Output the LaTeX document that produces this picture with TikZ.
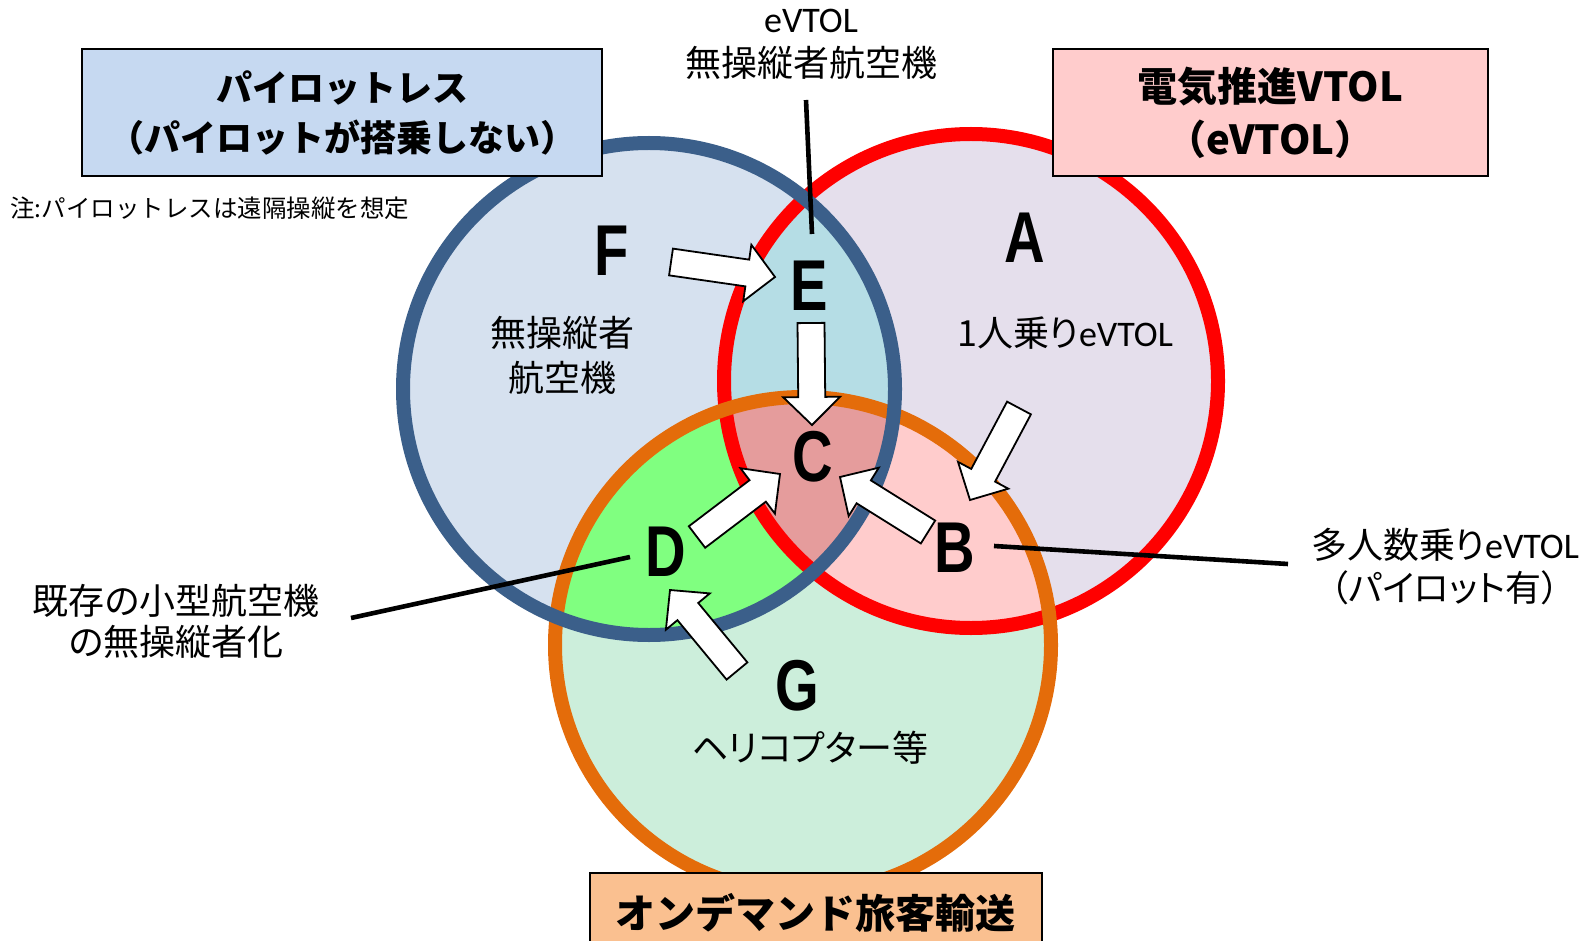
\documentclass[tikz,border=0pt]{standalone}
\usepackage{fontspec}
\setmainfont{Liberation Sans}
\newfontfamily\jp[RawFeature=+palt]{Noto Sans CJK JP}
\newfontfamily\jpt{Noto Sans CJK JP}
\newfontfamily\lat{Carlito}
\newfontfamily\letf[FakeStretch=0.78]{Liberation Sans}
\usetikzlibrary{calc}
\definecolor{bluefill}{HTML}{D6E1EF}
\definecolor{redfill}{HTML}{E5DFEC}
\definecolor{orangefill}{HTML}{CCEEDB}
\definecolor{Efill}{HTML}{B5DDE5}
\definecolor{Cfill}{HTML}{E59C9C}
\definecolor{Dfill}{HTML}{80FF80}
\definecolor{Bfill}{HTML}{FFCCCC}
\definecolor{bluering}{HTML}{3B5F8A}
\definecolor{redring}{HTML}{FF0000}
\definecolor{orangering}{HTML}{E46C0A}
\definecolor{boxblue}{HTML}{C6D9F1}
\definecolor{boxpink}{HTML}{FFCCCC}
\definecolor{boxorange}{HTML}{FAC090}
\tikzset{
  ring/.style={line width=14pt},
  lbl/.style={font=\letf\bfseries\fontsize{72}{72}\selectfont, inner sep=0pt},
  txt/.style={font=\jp\fontsize{36}{45}\selectfont, align=center, inner sep=0pt},
  titlebox/.style={draw=black, line width=2pt},
  ttext/.style={font=\jpt\bfseries\fontsize{36}{50}\selectfont, align=center, inner sep=0pt},
  barrow/.style={draw=black, fill=white, line width=1.8pt, line join=miter},
  lead/.style={line width=4.6pt, draw=black}
}
\newcommand\blockarr[2]{%
  \coordinate (hb) at ($(#2)!28pt!(#1)$);
  \draw[barrow] ($(#1)!13.5pt!90:(#2)$) -- ($(hb)!13.5pt!90:(#2)$) -- ($(hb)!28.5pt!90:(#2)$) -- (#2)
    -- ($(hb)!28.5pt!-90:(#2)$) -- ($(hb)!13.5pt!-90:(#2)$) -- ($(#1)!13.5pt!-90:(#2)$) -- cycle;}
\begin{document}
\begin{tikzpicture}[x=1pt,y=-1pt]
\useasboundingbox (0,0) rectangle (1593,941);
\coordinate (cb) at (649,389);
\coordinate (cr) at (971,381);
\coordinate (co) at (803,645);
% base fills
\fill[bluefill] (cb) circle[radius=246pt];
\fill[redfill] (cr) circle[radius=247pt];
\fill[orangefill] (co) circle[radius=248pt];
% intersections
\begin{scope}\clip (cb) circle[radius=246pt]; \fill[Dfill] (co) circle[radius=248pt];\end{scope}
\begin{scope}\clip (cr) circle[radius=247pt]; \fill[Bfill] (co) circle[radius=248pt];\end{scope}
\begin{scope}\clip (cb) circle[radius=246pt]; \fill[Efill] (cr) circle[radius=247pt];\end{scope}
\begin{scope}\clip (cb) circle[radius=246pt]; \clip (cr) circle[radius=247pt]; \fill[Cfill] (co) circle[radius=248pt];\end{scope}
% rings
\draw[ring, redring] (cr) circle[radius=247pt];
\draw[ring, orangering] (co) circle[radius=248pt];
\draw[ring, bluering] (cb) circle[radius=246pt];
% title boxes
\node[titlebox, fill=boxblue, minimum width=520pt, minimum height=127pt, anchor=north west] (tb1) at (81,48) {};
\node[ttext] (tt1) at (tb1.center) {パイロットレス\\（パイロットが搭乗しない）};
\node[titlebox, fill=boxpink, minimum width=435pt, minimum height=127pt, anchor=north west] (tb2) at (1052,48) {};
\node[ttext, font=\jpt\bfseries\fontsize{40}{53}\selectfont] (tt2) at (tb2.center) {電気推進VTOL\\（eVTOL）};
\node[titlebox, fill=boxorange, minimum width=452pt, minimum height=100pt, anchor=north west] (tb3) at (589,872) {};
\node[ttext, font=\jpt\bfseries\fontsize{40}{50}\selectfont] (tt3) at (815,913) {オンデマンド旅客輸送};
% note
\node[anchor=west, inner sep=0pt, font=\jpt\fontsize{24.5}{28}\selectfont] (note) at (10,208) {注:パイロットレスは遠隔操縦を想定};
% region letters
\node[lbl] (F) at (612,251) {F};
\node[lbl] (E) at (809,286) {E};
\node[lbl] (A) at (1025,238) {A};
\node[lbl] (C) at (813,457) {C};
\node[lbl] (D) at (666,552) {D};
\node[lbl] (B) at (955,548) {B};
\node[lbl] (G) at (797,686) {G};
% region texts
\node[txt] (tF) at (562,355) {無操縦者\\航空機};
\node[txt] (tA) at (1065,333) {1人乗り{\lat eVTOL}};
\node[txt] (tG) at (810,748) {ヘリコプター等};
% outside labels
\node[txt, font=\jp\fontsize{36}{44}\selectfont] (tE) at (811,44) {{\lat eVTOL}\\無操縦者航空機};
\node[txt, font=\jp\fontsize{36}{41}\selectfont] (tD) at (176,621) {既存の小型航空機\\の無操縦者化};
\node[txt, font=\jp\fontsize{36}{43}\selectfont] (tB) at (1445,567) {多人数乗り{\lat eVTOL}\\（パイロット有）};
% leader lines
\coordinate (eTop) at (806,100);
\coordinate (eBot) at (812,234);
\draw[lead] (eTop) -- (eBot);
\coordinate (dOut) at (351,618);
\coordinate (dIn) at (630,557);
\draw[lead] (dOut) -- (dIn);
\coordinate (bIn) at (994,546);
\coordinate (bOut) at (1288,564);
\draw[lead] (bIn) -- (bOut);
% block arrows
\coordinate (t1) at (671,262); \coordinate (h1) at (775,277);
\coordinate (t2) at (811,323); \coordinate (h2) at (812,425);
\coordinate (t3) at (697,537); \coordinate (h3) at (780,474);
\coordinate (t4) at (928,532); \coordinate (h4) at (840,477);
\coordinate (t5) at (737,671); \coordinate (h5) at (670,590);
\coordinate (t6) at (1019,408); \coordinate (h6) at (970,500);
\blockarr{t1}{h1}
\blockarr{t2}{h2}
\blockarr{t3}{h3}
\blockarr{t4}{h4}
\blockarr{t5}{h5}
\blockarr{t6}{h6}
\end{tikzpicture}
\end{document}
